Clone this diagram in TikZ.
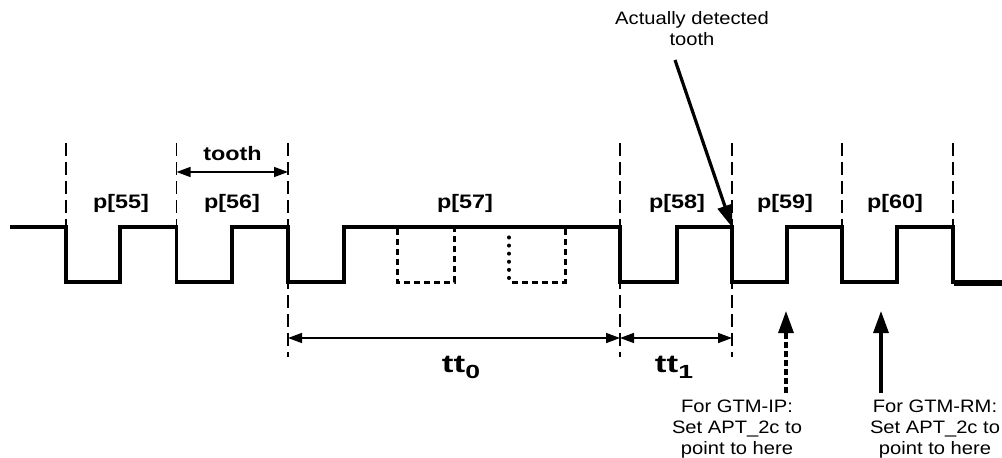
\documentclass[tikz,border=0pt]{standalone}
\usepackage{fontspec}
\setmainfont{Liberation Sans}
\newfontfamily\lab{Liberation Sans}[FakeStretch=1.12]
\newfontfamily\blab{Liberation Sans}[FakeStretch=1.2]
\usetikzlibrary{arrows.meta}
\begin{document}
\begin{tikzpicture}[x=1pt,y=-1pt,
  sig/.style={line width=3.4pt, line join=miter},
  gridline/.style={line width=1.5pt, dash pattern=on 13pt off 6pt},
  miss/.style={line width=3pt, dash pattern=on 6pt off 4pt},
  dotedge/.style={line width=4pt, line cap=round, dash pattern=on 0.1pt off 8pt},
  dimarrow/.style={line width=1.5pt, {Triangle[length=14pt,width=10pt]}-{Triangle[length=14pt,width=10pt]}},
  bigarrow/.style={line width=3.2pt, -{Triangle[length=22pt,width=15pt]}},
  lbl/.style={font=\blab\bfseries\fontsize{19.5}{22}\selectfont, inner sep=0, anchor=base},
  ttlbl/.style={font=\bfseries\fontsize{25}{28}\selectfont, inner sep=0, anchor=base},
  note/.style={font=\lab\fontsize{18}{21}\selectfont, align=center, inner sep=0}]
\useasboundingbox (0,0) rectangle (1002,458);

% grid coordinates
\foreach \n/\x in {1/66,2/176.5,3/288,4/620,5/732,6/842,7/953}{
  \coordinate (t\n) at (\x,143);
}
\coordinate (b1) at (66,225);
\coordinate (b2) at (176.5,225);
\coordinate (b3) at (288,357);
\coordinate (b4) at (620,357);
\coordinate (b5) at (732,357);
\coordinate (b6) at (842,225);
\coordinate (b7) at (953,225);
\foreach \n in {1,...,7}{ \draw[gridline] (t\n) -- (b\n); }

% signal
\draw[sig] (10,227) -- (66,227) -- (66,282) -- (120,282) -- (120,227) -- (176.5,227)
  -- (176.5,282) -- (232,282) -- (232,227) -- (288,227) -- (288,282) -- (344,282)
  -- (344,227) -- (620,227) -- (620,282) -- (677,282) -- (677,227) -- (732,227)
  -- (732,282) -- (787,282) -- (787,227) -- (842,227) -- (842,282) -- (897,282)
  -- (897,227) -- (953,227) -- (953,282) -- (1002,282);
\draw[line width=5.5pt] (954,283) -- (1002,283);

% missing teeth
\draw[miss] (397,229) -- (397,282) -- (454,282) -- (454,229);
\draw[miss] (565,229) -- (565,282) -- (509,282);
\draw[dotedge] (509,278) -- (509,235);

% dimension arrows
\coordinate (ta) at (176.5,172); \coordinate (tb) at (288,172);
\draw[dimarrow] (ta) -- (tb);
\coordinate (da) at (288,338); \coordinate (db) at (620,338); \coordinate (dc) at (732,338);
\draw[dimarrow] (da) -- (db);
\draw[dimarrow] (db) -- (dc);

% labels
\node[lbl] (tooth) at (232.5,160) {tooth};
\node[lbl] (p55) at (121,208) {p[55]};
\node[lbl] (p56) at (232,208) {p[56]};
\node[lbl] (p57) at (465,208) {p[57]};
\node[lbl] (p58) at (677,208) {p[58]};
\node[lbl] (p59) at (785,208) {p[59]};
\node[lbl] (p60) at (895,208) {p[60]};
\node[ttlbl] (tt0) at (461,372) {\scalebox{1.4}[1]{tt\raisebox{-6pt}{\fontsize{19}{19}\selectfont 0}}};
\node[ttlbl] (tt1) at (674,372) {\scalebox{1.4}[1]{tt\raisebox{-6pt}{\fontsize{19}{19}\selectfont 1}}};

% detected tooth
\node[note, anchor=north] (det) at (692,11) {Actually detected\\tooth};
\coordinate (dstart) at (675,60);
\coordinate (dend) at (732,227);
\draw[bigarrow] (dstart) -- (dend);

% bottom notes
\node[note, anchor=north] (ip) at (737,400) {For GTM-IP:\\Set APT\_2c to\\point to here};
\node[note, anchor=north] (rm) at (935,400) {For GTM-RM:\\Set APT\_2c to\\point to here};
\coordinate (ipa) at (786,393); \coordinate (ipb) at (786,311);
\coordinate (rma) at (881,393); \coordinate (rmb) at (881,311);
\draw[bigarrow, dash pattern=on 6pt off 3pt] (ipa) -- (ipb);
\draw[bigarrow] (rma) -- (rmb);
\end{tikzpicture}
\end{document}
